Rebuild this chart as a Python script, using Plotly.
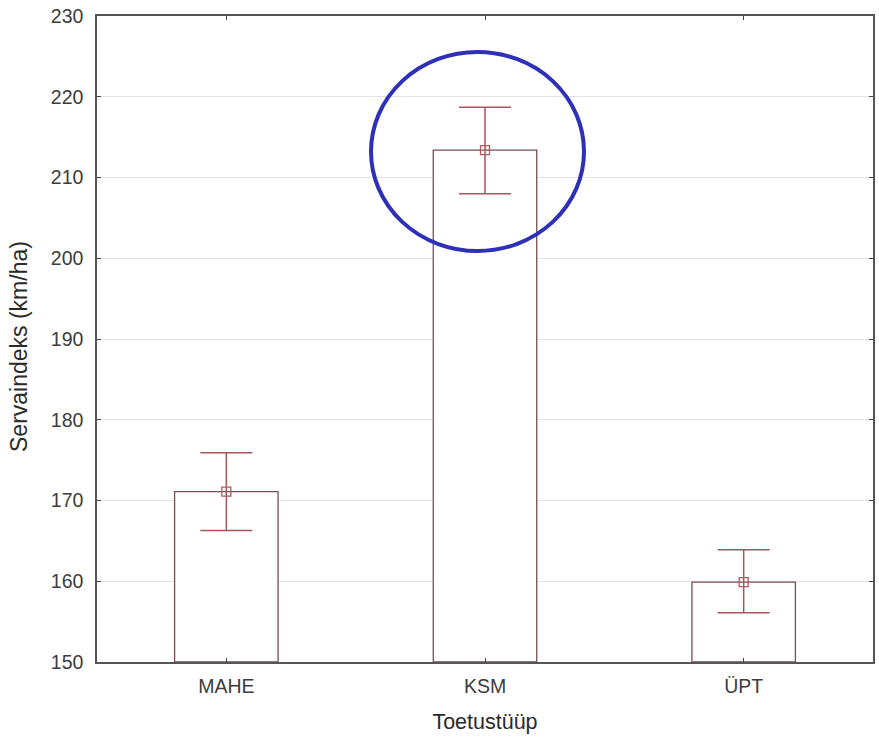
import plotly.graph_objects as go

categories = ["MAHE", "KSM", "ÜPT"]
means = [171.1, 213.4, 159.9]
err_plus = [4.8, 5.3, 4.0]
err_minus = [4.8, 5.4, 3.8]

W, H = 879, 742
ML, MR, MT, MB = 97, 6, 16, 80
pw, ph = W - ML - MR, H - MT - MB

def px_x(x):
    return (x - ML) / pw

def px_y(y):
    return 1 - (y - MT) / ph

fig = go.Figure()
fig.add_trace(go.Bar(
    x=categories, y=[m - 150 for m in means], base=150,
    width=0.4,
    marker=dict(color="white", line=dict(color="#7a4e52", width=1.3)),
    showlegend=False, hoverinfo="skip",
))
fig.add_trace(go.Scatter(
    x=categories, y=means, mode="markers",
    marker=dict(symbol="square-open", size=9, color="#b0585e", line=dict(width=1.3)),
    error_y=dict(type="data", array=err_plus, arrayminus=err_minus,
                 color="#a5565c", thickness=1.5, width=26),
    showlegend=False,
))

fig.add_shape(type="circle", xref="paper", yref="paper",
              x0=px_x(371), x1=px_x(584), y0=px_y(251), y1=px_y(52),
              line=dict(color="#2e31b8", width=4))

FONT = "Liberation Sans, Arial, sans-serif"
axis_common = dict(showline=True, linecolor="#555555", linewidth=1.5, mirror="ticks",
                   ticks="inside", ticklen=4, tickcolor="#444444", ticklabeloverflow="allow",
                   automargin=False,
                   tickfont=dict(family=FONT, size=19.5, color="#3c3c3c"))

fig.add_annotation(text="Servaindeks (km/ha)", xref="paper", yref="paper",
                   x=px_x(19), y=px_y(347), xanchor="center", yanchor="middle",
                   textangle=-90, showarrow=False,
                   font=dict(family=FONT, size=23, color="#2a2a2a"))

fig.update_layout(
    width=W, height=H,
    margin=dict(l=ML, r=MR, t=MT, b=MB, autoexpand=False),
    paper_bgcolor="white", plot_bgcolor="white",
    font=dict(family=FONT, color="#333333"),
    xaxis=dict(**axis_common, range=[-0.5, 2.5], showgrid=False, ticklabelstandoff=6,
               title=dict(text="Toetustüüp", font=dict(size=21.5, color="#2a2a2a"), standoff=18)),
    yaxis=dict(**axis_common, range=[150, 230], dtick=10, showgrid=True, ticklabelstandoff=8,
               gridcolor="#e3e3e3", gridwidth=1, zeroline=False),
)

# remove the browser's default 8px body margin so the figure fills the window exactly
fig.write_html("out.html", config={"displayModeBar": False},
               post_script="document.body.style.margin='0';document.body.style.overflow='hidden';")
